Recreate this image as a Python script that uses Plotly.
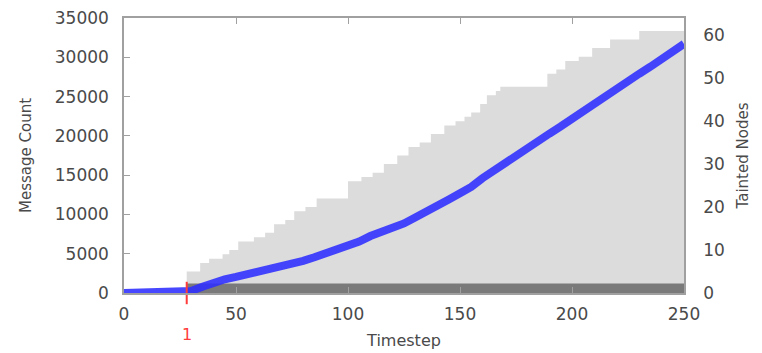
import plotly.graph_objects as go

# Message count (left axis)
msg_t = [0, 5, 10, 15, 20, 25, 28, 30, 35, 40, 45, 50, 55, 60, 65, 70, 75, 80, 85, 90, 95,
         100, 105, 110, 115, 120, 125, 130, 135, 140, 145, 150, 155, 160, 165, 170, 175,
         180, 185, 190, 195, 200, 205, 210, 215, 220, 225, 230, 235, 240, 245, 250]
msg_count = [0, 0, 0, 0, 0, 0, 0, 250, 800, 1350, 1750, 2050, 2350, 2700, 3050, 3350, 3700,
             4100, 4550, 5000, 5450, 5950, 6550, 7250, 7700, 8200, 8850, 9600, 10300, 11100,
             11900, 12700, 13500, 14600, 15600, 16600, 17500, 18400, 19300, 20300, 21200,
             22200, 23200, 24100, 25000, 26000, 27000, 27900, 28800, 29700, 30600, 31700]

# Tainted nodes (right axis), step function
taint_t = [28, 34, 38, 44, 47, 51, 58, 63, 67, 72, 76, 81, 86, 100, 106, 111, 116, 122, 127,
           132, 137, 143, 148, 152, 155, 159, 162, 166, 168, 189, 193, 197, 203, 209, 217, 230, 250]
tainted = [5, 7, 8, 9, 10, 12, 13, 14, 16, 17, 19, 20, 22, 26, 27, 28, 30, 32, 34,
           35, 37, 39, 40, 41, 42, 44, 46, 47, 48, 51, 52, 54, 55, 57, 59, 61, 61]

# Detected nodes band (right axis)
detect_t = [28, 250]
detected = [2.2, 2.2]

# First infection marker
marker_t = [28]
marker_label = ["1"]

x_ticks = [0, 50, 100, 150, 200, 250]
left_ticks = [0, 5000, 10000, 15000, 20000, 25000, 30000, 35000]
right_ticks = [0, 10, 20, 30, 40, 50, 60]

FONT = "DejaVu Sans"
TXT = "#4a4a4a"

fig = go.Figure()

fig.add_trace(go.Scatter(
    x=taint_t, y=tainted, yaxis="y", mode="lines", line=dict(width=0, shape="hv"),
    fill="tozeroy", fillcolor="#dcdcdc", showlegend=False, hoverinfo="skip"))

fig.add_trace(go.Scatter(
    x=detect_t, y=detected, yaxis="y", mode="lines", line=dict(width=0),
    fill="tozeroy", fillcolor="#7a7a7a", showlegend=False, hoverinfo="skip"))

fig.add_trace(go.Scatter(
    x=msg_t, y=msg_count, yaxis="y2", mode="lines",
    line=dict(color="rgba(45,45,255,0.88)", width=8), cliponaxis=False, showlegend=False))

fig.add_trace(go.Scatter(
    x=marker_t, y=[0], yaxis="y2", mode="markers",
    marker=dict(symbol="line-ns", size=16, line=dict(color="#ff3b3b", width=2)),
    cliponaxis=False, showlegend=False))

for t, lab in zip(marker_t, marker_label):
    fig.add_annotation(x=t, y=0, xref="x", yref="paper", text=lab, showarrow=False,
                       yshift=-53, font=dict(family=FONT, size=16, color="#ff3b3b"))

fig.update_layout(
    width=762, height=353,
    margin=dict(l=116, r=86, t=10, b=68),
    paper_bgcolor="white", plot_bgcolor="white",
    font=dict(family=FONT, size=17, color=TXT),
    xaxis=dict(range=[0, 250], tickvals=x_ticks, showgrid=False, zeroline=False,
               automargin=False, ticklabeloverflow="allow",
               showline=True, linecolor="#a0a0a0", linewidth=1.5, mirror="ticks",
               ticks="inside", ticklen=6, tickcolor="#a0a0a0",
               tickfont=dict(size=17, color=TXT), ticklabelstandoff=5,
               title=dict(text="Timestep", font=dict(size=16, color=TXT), standoff=12)),
    yaxis=dict(range=[0, 64], side="right", tickvals=right_ticks, showgrid=False,
               automargin=False, ticklabeloverflow="allow",
               zeroline=False, showline=True, linecolor="#a0a0a0", linewidth=1.5,
               ticks="", tickfont=dict(size=17, color=TXT), ticklabelstandoff=14,
               title=dict(text="Tainted Nodes", font=dict(size=15, color=TXT), standoff=14)),
    yaxis2=dict(range=[0, 35000], side="left", overlaying="y", tickvals=left_ticks,
                automargin=False, tickformat="d", ticklabeloverflow="allow",
                showgrid=False, zeroline=False, showline=True, linecolor="#a0a0a0",
                linewidth=1.5, ticks="inside", ticklen=6, tickcolor="#a0a0a0",
                tickfont=dict(size=17, color=TXT), ticklabelstandoff=10,
                title=dict(text="Message Count", font=dict(size=15, color=TXT), standoff=20)),
)

fig.write_html("out.html")
